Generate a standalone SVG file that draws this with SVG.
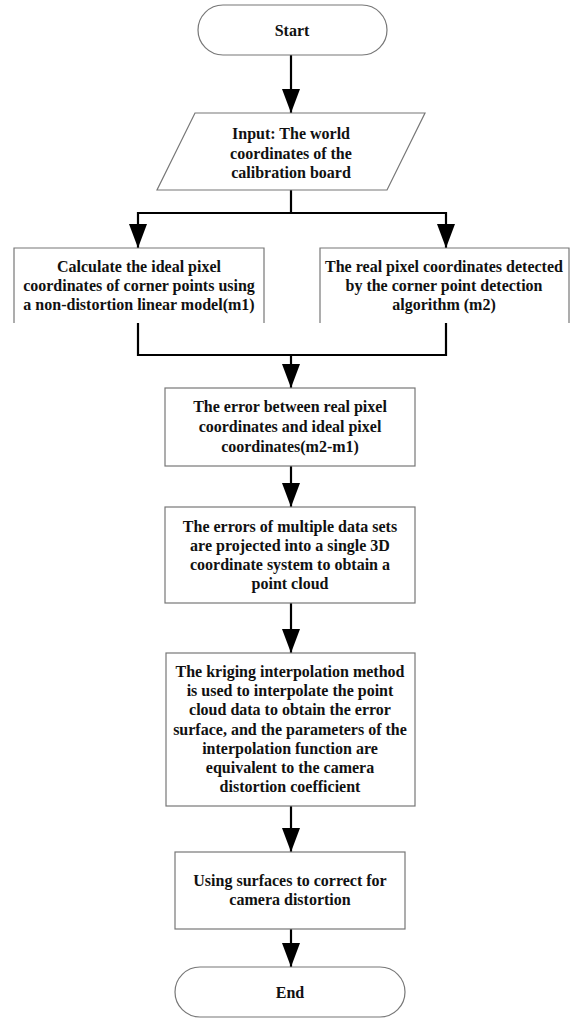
<svg xmlns="http://www.w3.org/2000/svg" width="574" height="1020" viewBox="0 0 574 1020">
<style>
.shape{fill:#fff;stroke:#777;stroke-width:1.2}
.conn{fill:none;stroke:#000;stroke-width:2.2}
.t{font-family:'Liberation Serif','Times New Roman',Times,serif;font-weight:700;font-size:16px;text-anchor:middle;fill:#111}
</style>
<defs>
<marker id="arr" viewBox="0 0 24 18" refX="24" refY="9" markerUnits="userSpaceOnUse" markerWidth="24" markerHeight="18" orient="auto">
<path d="M0,0 L24,9 L0,18 z" fill="#000"/>
</marker>
</defs>
<rect width="574" height="1020" fill="#fff"/>
<g id="connectors">
<path class="conn" d="M291,55 V113" marker-end="url(#arr)"/>
<path class="conn" d="M291,190 V213 H138 V248" marker-end="url(#arr)"/>
<path class="conn" d="M291,213 H446 V248" marker-end="url(#arr)"/>
<path class="conn" d="M138,323 V355 H446 V323"/>
<path class="conn" d="M291,355 V388" marker-end="url(#arr)"/>
<path class="conn" d="M291,466 V507" marker-end="url(#arr)"/>
<path class="conn" d="M291,603 V653" marker-end="url(#arr)"/>
<path class="conn" d="M291,806 V852" marker-end="url(#arr)"/>
<path class="conn" d="M291,929 V967" marker-end="url(#arr)"/>
</g>
<g class="t" font-family="Liberation Serif, serif">
<g id="start">
<rect class="shape" x="198" y="5" width="189" height="50" rx="25"/>
<text x="292" y="36">Start</text>
</g>
<g id="input">
<polygon class="shape" points="195,113 425,113 387,190 157,190"/>
<text x="291" y="139">Input: The world</text>
<text x="291" y="159">coordinates of the</text>
<text x="291" y="178">calibration board</text>
</g>
<g id="ideal">
<path class="shape" d="M14,323 V248 H264 V323"/>
<text x="139" y="272">Calculate the ideal pixel</text>
<text x="139" y="291">coordinates of corner points using</text>
<text x="139" y="310">a non-distortion linear model(m1)</text>
</g>
<g id="real">
<path class="shape" d="M320,323 V248 H569 V323"/>
<text x="444" y="272">The real pixel coordinates detected</text>
<text x="444" y="291">by the corner point detection</text>
<text x="444" y="310">algorithm (m2)</text>
</g>
<g id="error">
<rect class="shape" x="165" y="388" width="250" height="78"/>
<text x="290" y="412">The error between real pixel</text>
<text x="290" y="432">coordinates and ideal pixel</text>
<text x="290" y="452">coordinates(m2-m1)</text>
</g>
<g id="cloud">
<rect class="shape" x="165" y="507" width="250" height="96"/>
<text x="290" y="532">The errors of multiple data sets</text>
<text x="290" y="551">are projected into a single 3D</text>
<text x="290" y="570">coordinate system to obtain a</text>
<text x="290" y="589">point cloud</text>
</g>
<g id="kriging">
<rect class="shape" x="166" y="653" width="249" height="153"/>
<text x="290" y="677">The kriging interpolation method</text>
<text x="290" y="696">is used to interpolate the point</text>
<text x="290" y="715">cloud data to obtain the error</text>
<text x="290" y="735">surface, and the parameters of the</text>
<text x="290" y="754">interpolation function are</text>
<text x="290" y="773">equivalent to the camera</text>
<text x="290" y="792">distortion coefficient</text>
</g>
<g id="correct">
<rect class="shape" x="175" y="852" width="230" height="77"/>
<text x="290" y="886">Using surfaces to correct for</text>
<text x="290" y="905">camera distortion</text>
</g>
<g id="end">
<rect class="shape" x="175" y="967" width="230" height="50" rx="25"/>
<text x="290" y="998">End</text>
</g>
</g>
</svg>
